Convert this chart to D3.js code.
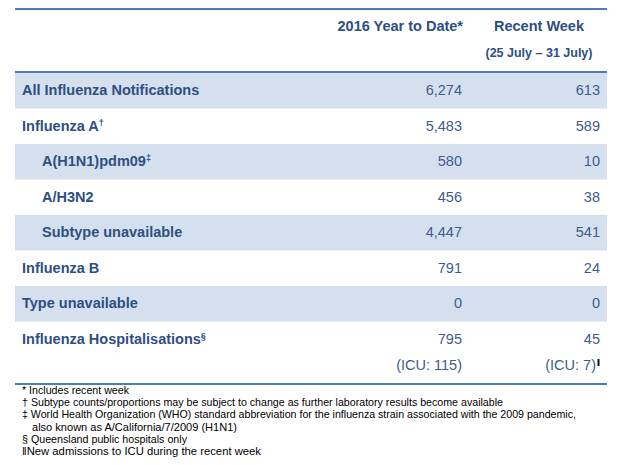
<!DOCTYPE html>
<html>
<head>
<meta charset="utf-8">
<script src="https://cdn.jsdelivr.net/npm/d3@7"></script>
<style>
  body { margin: 0; background: #fff; }
  text { font-family: "Liberation Sans", Arial, sans-serif; }
</style>
</head>
<body>
<div id="chart"></div>
<script>
// table rows
var rowLabels = ["All Influenza Notifications", "Influenza A", "A(H1N1)pdm09", "A/H3N2",
  "Subtype unavailable", "Influenza B", "Type unavailable", "Influenza Hospitalisations"];
var rowMarks = ["", "\u2020", "\u2021", "", "", "", "", "\u00a7"];
var rowLevel = [0, 0, 1, 1, 1, 0, 0, 0];
var yearToDate = [6274, 5483, 580, 456, 4447, 791, 0, 795];
var recentWeek = [613, 589, 10, 38, 541, 24, 0, 45];
var icuValues = [115, 7];

var columns = ["2016 Year to Date*", "Recent Week"];
var weekRange = "(25 July \u2013 31 July)";

var footnotes = [
  "* Includes recent week",
  "\u2020 Subtype counts/proportions may be subject to change as further laboratory results become available",
  "\u2021 World Health Organization (WHO) standard abbreviation for the influenza strain associated with the 2009 pandemic,",
  "also known as A/California/7/2009 (H1N1)",
  "\u00a7 Queensland public hospitals only",
  "\u2016New admissions to ICU during the recent week"
];
var footnoteIndent = [0, 0, 0, 1, 0, 0];

var width = 630, height = 465;
var left = 15, right = 607;
var labelColour = "#2e4f82", numColour = "#3e5c8c", ruleColour = "#4f7cb1", bandColour = "#d5e0ee";
var numFormat = d3.format(",");

var svg = d3.select("#chart").append("svg")
  .attr("width", width)
  .attr("height", height);

var data = rowLabels.map(function (d, i) {
  return {label: d, mark: rowMarks[i], level: rowLevel[i], ytd: yearToDate[i], week: recentWeek[i], i: i};
});

//scales
var y = d3.scaleBand()
  .domain(d3.range(data.length + 1))
  .range([73, 73 + 35.5 * (data.length + 1)])
  .padding(0);

var x = d3.scaleOrdinal()
  .domain(["ytd", "week"])
  .range([462, 600]);

var indent = d3.scaleOrdinal().domain([0, 1]).range([22, 42]);

//shaded bands
svg.append("g").selectAll("rect")
  .data(data.filter(function (d) { return d.i % 2 === 0; }))
  .enter().append("rect")
  .attr("x", left)
  .attr("width", right - left)
  .attr("y", function (d) { return y(d.i); })
  .attr("height", y.bandwidth())
  .attr("fill", bandColour);

//rules
[9, 72, 384].forEach(function (ry) {
  svg.append("line")
    .attr("x1", left).attr("x2", right)
    .attr("y1", ry).attr("y2", ry)
    .attr("stroke", ruleColour)
    .attr("stroke-width", 2);
});

//header
svg.append("text")
  .attr("x", x("ytd") + 1)
  .attr("y", 31)
  .attr("text-anchor", "end")
  .style("font-size", "14.5px").style("font-weight", "bold")
  .attr("fill", labelColour)
  .text(columns[0]);

svg.append("text")
  .attr("x", 539)
  .attr("y", 31)
  .attr("text-anchor", "middle")
  .style("font-size", "14.5px").style("font-weight", "bold")
  .attr("fill", labelColour)
  .text(columns[1]);

svg.append("text")
  .attr("x", 539)
  .attr("y", 57)
  .attr("text-anchor", "middle")
  .style("font-size", "12.5px").style("font-weight", "bold")
  .attr("fill", labelColour)
  .text(weekRange);

//rows
var rows = svg.append("g").selectAll(".row")
  .data(data)
  .enter().append("g")
  .attr("class", "row")
  .attr("transform", function (d) { return "translate(0," + (y(d.i) + 22) + ")"; });

var lab = rows.append("text")
  .attr("x", function (d) { return indent(d.level); })
  .style("font-size", "14.5px").style("font-weight", "bold")
  .attr("fill", labelColour);
lab.append("tspan").text(function (d) { return d.label; });
lab.append("tspan")
  .attr("dy", -5)
  .style("font-size", "9px")
  .text(function (d) { return d.mark; });

rows.append("text")
  .attr("x", x("ytd"))
  .attr("text-anchor", "end")
  .style("font-size", "14.5px")
  .attr("fill", numColour)
  .text(function (d) { return numFormat(d.ytd); });

rows.append("text")
  .attr("x", x("week"))
  .attr("text-anchor", "end")
  .style("font-size", "14.5px")
  .attr("fill", numColour)
  .text(function (d) { return numFormat(d.week); });

//ICU row
var icuY = y(data.length) + 13;
svg.append("text")
  .attr("x", x("ytd"))
  .attr("y", icuY)
  .attr("text-anchor", "end")
  .style("font-size", "14.5px")
  .attr("fill", numColour)
  .text("(ICU: " + icuValues[0] + ")");

var icuWeek = svg.append("text")
  .attr("x", x("week") - 4)
  .attr("y", icuY)
  .attr("text-anchor", "end")
  .style("font-size", "14.5px")
  .attr("fill", numColour)
  .text("(ICU: " + icuValues[1] + ")");
svg.append("rect")
  .attr("x", x("week") - 2.5)
  .attr("y", icuY - 11)
  .attr("width", 2)
  .attr("height", 7)
  .attr("fill", "#111");

//footnotes
var foot = svg.append("g").selectAll("text")
  .data(footnotes)
  .enter().append("text")
  .attr("x", function (d, i) { return footnoteIndent[i] ? 32 : 22; })
  .attr("y", function (d, i) { return 394 + i * 12.2; })
  .style("font-size", "10.5px")
  .attr("fill", "#000")
  .text(function (d) { return d; });

// reference text runs a bit wider than Liberation Sans, stretch to the measured ends
var footEnds = [129, 503, 576, 237, 187, 261];
foot.each(function (d, i) {
  var sx = footnoteIndent[i] ? 32 : 22;
  d3.select(this)
    .attr("textLength", footEnds[i] - sx)
    .attr("lengthAdjust", "spacingAndGlyphs");
});
</script>
</body>
</html>
